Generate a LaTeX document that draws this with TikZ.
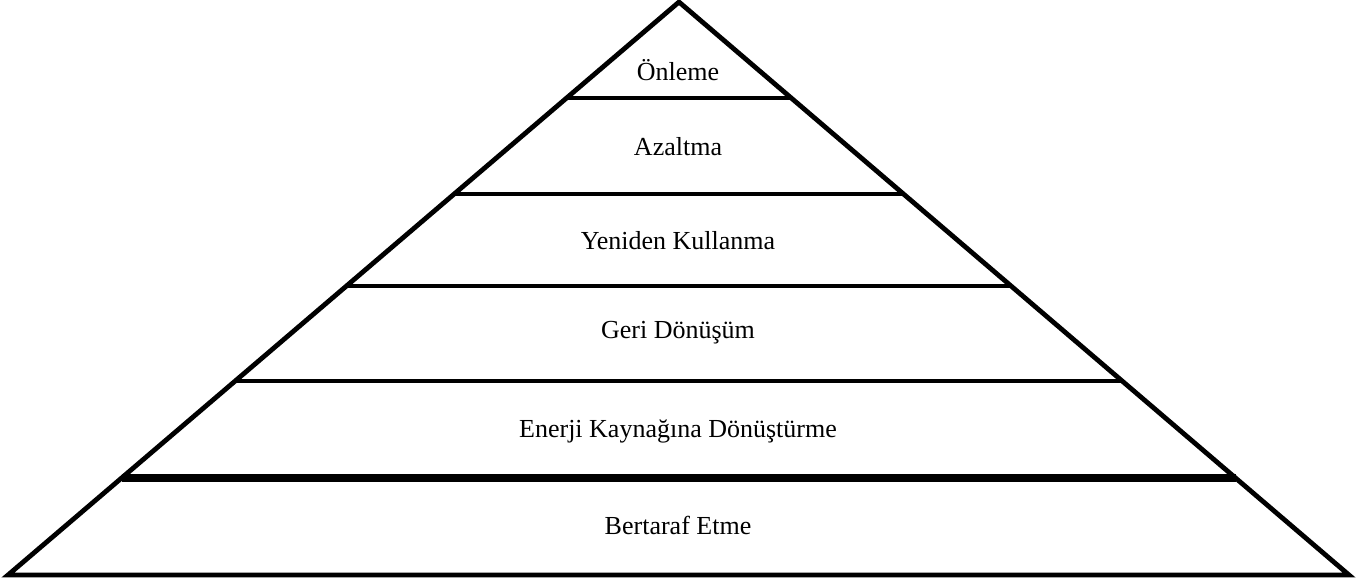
\documentclass[tikz,border=0pt]{standalone}
\usepackage{fontspec}
\setmainfont{Liberation Serif}
\usetikzlibrary{calc}
\tikzset{
  edge/.style={line width=2.4pt, line join=miter},
  layer/.style={font=\fontsize{13}{15}\selectfont, anchor=center}
}
\begin{document}
\begin{tikzpicture}[x=0.5pt, y=-0.5pt]
        \useasboundingbox (0,0) rectangle (1368,585);

        \coordinate (apex) at (679, 2);
        \coordinate (bl) at (8, 575);
        \coordinate (br) at (1349, 575);

        % levels
        \foreach \t/\n in {0.1675/a, 0.3351/b, 0.4956/c, 0.6614/d} {
            \coordinate (l\n) at ($(apex)!\t!(bl)$);
            \coordinate (r\n) at ($(apex)!\t!(br)$);
            \draw[edge] (l\n) -- (r\n);
        }
        \coordinate (le) at ($(apex)!0.8307!(bl)$);
        \coordinate (re) at ($(apex)!0.8307!(br)$);
        \draw[edge, line width=4pt] (le) -- (re);

        \draw[edge] (bl) -- (apex) -- (br) -- cycle;

        \node[layer] (onleme) at (678, 70) {Önleme};
        \node[layer] (azaltma) at (678, 147) {Azaltma};
        \node[layer] (yeniden) at (678, 241) {Yeniden Kullanma};
        \node[layer] (geri) at (678, 333) {Geri Dönüşüm};
        \node[layer] (enerji) at (678, 431) {Enerji Kaynağına Dönüştürme};
        \node[layer] (bertaraf) at (678, 525) {Bertaraf Etme};

    \end{tikzpicture}
\end{document}
